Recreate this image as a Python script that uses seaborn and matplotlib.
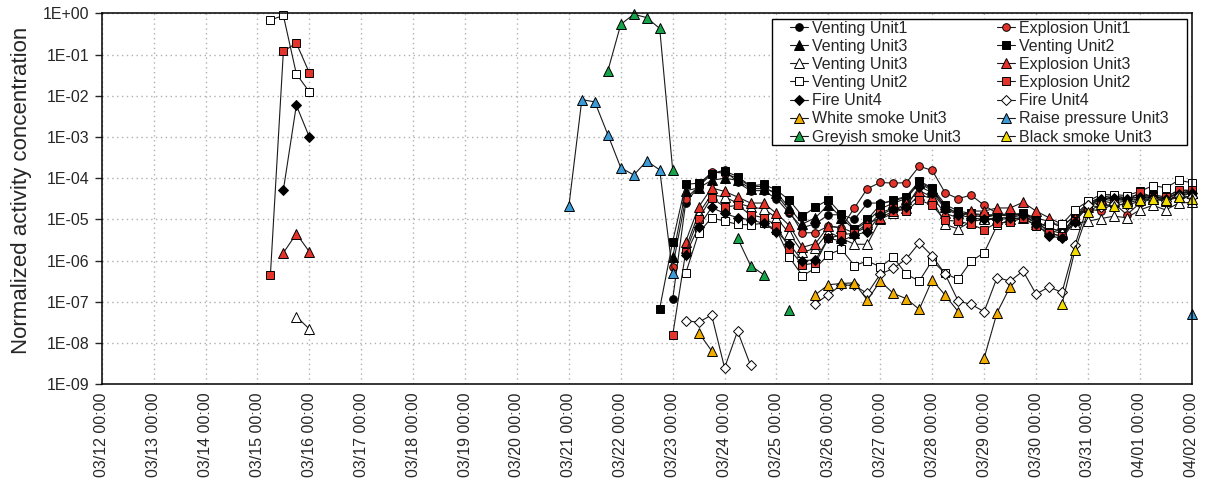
import math
import pandas as pd
import matplotlib
matplotlib.use("Agg")
import matplotlib.pyplot as plt
import matplotlib.dates as mdates
from matplotlib.lines import Line2D
from matplotlib.patches import Rectangle
from matplotlib.ticker import FixedLocator, FuncFormatter, NullLocator
import seaborn as sns

YEAR = "2011"
STEP_HOURS = 6

# Each series: list of (first sample time, values every 6 hours)
venting_unit1 = [
    ("03/23 00:00", [1.15e-7, 2.5e-5, 6.3e-5, 1.26e-4, 1.6e-4, 7.9e-5, 5.0e-5, 5.0e-5, 3.2e-5, 1.4e-5,
                     6.3e-6, 7.9e-6, 1.3e-5, 1.3e-5, 1.0e-5, 2.5e-5, 2.5e-5, 2.8e-5, 3.5e-5, 7.9e-5,
                     5.6e-5, 2.0e-5, 1.4e-5, 1.4e-5, 1.3e-5, 1.3e-5, 1.3e-5, 1.4e-5, 1.0e-5, 4.5e-6,
                     4.0e-6, 1.3e-5, 2.5e-5, 3.2e-5, 3.5e-5, 3.5e-5, 4.0e-5, 3.5e-5, 3.2e-5, 4.5e-5,
                     4.8e-5]),
]
explosion_unit1 = [
    ("03/23 00:00", [7.1e-7, 3.2e-5, 6.3e-5, 1.45e-4, 1.3e-4, 1.0e-4, 6.3e-5, 6.3e-5, 4.0e-5, 1.6e-5,
                     4.7e-6, 4.8e-6, 6.9e-6, 6.3e-6, 1.9e-5, 5.6e-5, 7.9e-5, 7.6e-5, 7.8e-5, 1.95e-4,
                     1.55e-4, 4.4e-5, 3.2e-5, 3.9e-5, 2.2e-5, 1.4e-5, 1.3e-5, 1.4e-5, 1.1e-5, 8.9e-6,
                     6.3e-6, 1.3e-5, 1.8e-5, 1.6e-5, 2.5e-5, 1.3e-5, 2.5e-5, 3.2e-5, 2.8e-5, 4.0e-5,
                     5.2e-5]),
]
venting_unit3 = [
    ("03/23 00:00", [1.2e-6, 5.0e-5, 5.8e-5, 8.9e-5, 1.0e-4, 8.9e-5, 5.6e-5, 5.6e-5, 4.5e-5, 1.9e-5,
                     7.8e-6, 1.1e-5, 2.3e-5, 1.1e-5, 5.6e-6, 8.9e-6, 1.8e-5, 2.5e-5, 3.2e-5, 7.6e-5,
                     5.0e-5, 2.0e-5, 1.4e-5, 1.3e-5, 1.1e-5, 1.3e-5, 1.2e-5, 1.35e-5, 7.9e-6, 5.6e-6,
                     4.5e-6, 1.0e-5, 2.2e-5, 3.2e-5, 3.2e-5, 2.8e-5, 3.2e-5, 3.5e-5, 3.2e-5, 4.5e-5,
                     4.5e-5]),
]
venting_unit2 = [
    ("03/22 18:00", [6.9e-8, 2.9e-6, 7.1e-5, 7.6e-5, 1.3e-4, 1.5e-4, 1.1e-4, 6.5e-5, 7.1e-5, 5.2e-5,
                     2.9e-5, 1.2e-5, 2.0e-5, 3.0e-5, 1.35e-5, 5.9e-6, 1.0e-5, 2.3e-5, 3.0e-5, 3.6e-5,
                     8.5e-5, 5.9e-5, 2.3e-5, 1.6e-5, 1.4e-5, 1.2e-5, 1.3e-5, 1.26e-5, 1.4e-5, 9.1e-6,
                     6.3e-6, 5.0e-6, 1.1e-5, 2.5e-5, 3.5e-5, 3.8e-5, 3.2e-5, 3.5e-5, 4.0e-5, 3.5e-5,
                     5.0e-5, 5.0e-5]),
]
venting_unit3_open = [
    ("03/15 18:00", [4.4e-8, 2.2e-8]),
    ("03/23 06:00", [2.0e-6, 1.4e-5, 4.0e-5, 3.5e-5, 2.5e-5, 2.0e-5, 1.8e-5, 1.1e-5, 4.5e-6, 1.6e-6,
                     2.0e-6, 5.0e-6, 3.5e-6, 2.5e-6, 2.5e-6, 1.0e-5, 1.45e-5, 1.9e-5, 4.0e-5, 3.2e-5,
                     7.6e-6, 5.9e-6, 8.9e-6, 1.0e-5, 1.0e-5, 1.05e-5, 1.1e-5, 8.9e-6, 6.3e-6, 5.0e-6,
                     7.9e-6, 9.1e-6, 1.05e-5, 1.2e-5, 1.1e-5, 1.7e-5, 2.2e-5, 1.7e-5, 2.5e-5, 2.6e-5]),
]
explosion_unit3 = [
    ("03/15 12:00", [1.55e-6, 4.5e-6, 1.65e-6]),
    ("03/23 06:00", [2.9e-6, 2.0e-5, 5.8e-5, 4.8e-5, 3.5e-5, 2.5e-5, 2.5e-5, 1.4e-5, 7.1e-6, 2.1e-6,
                     2.6e-6, 6.8e-6, 6.3e-6, 4.7e-6, 7.9e-6, 1.1e-5, 1.6e-5, 2.5e-5, 5.0e-5, 3.5e-5,
                     1.4e-5, 1.1e-5, 1.6e-5, 1.6e-5, 1.9e-5, 1.9e-5, 2.6e-5, 1.6e-5, 1.1e-5, 7.6e-6,
                     1.1e-5, 2.0e-5, 3.2e-5, 2.8e-5, 3.2e-5, 3.5e-5, 3.2e-5, 2.8e-5, 3.5e-5, 4.5e-5]),
]
venting_unit2_open = [
    ("03/15 06:00", [0.69, 0.89, 0.034, 0.0125]),
    ("03/23 06:00", [4.9e-7, 4.7e-6, 1.1e-5, 9.1e-6, 7.6e-6, 7.4e-6, 8.1e-6, 5.6e-6, 1.2e-6, 4.3e-7,
                     6.6e-7, 1.4e-6, 1.9e-6, 7.6e-7, 9.8e-7, 7.1e-7, 1.2e-6, 4.7e-7, 3.2e-7, 1.0e-6,
                     4.9e-7, 3.5e-7, 9.8e-7, 1.55e-6, 7.2e-6, 1.0e-5, 1.1e-5, 7.1e-6, 7.9e-6, 7.6e-6,
                     1.7e-5, 2.8e-5, 4.0e-5, 4.0e-5, 3.8e-5, 4.8e-5, 6.6e-5, 5.9e-5, 8.9e-5, 7.8e-5]),
]
explosion_unit2 = [
    ("03/15 06:00", [4.5e-7, 0.12, 0.19, 0.036]),
    ("03/23 00:00", [1.55e-8, 1.6e-6, 1.05e-5, 3.4e-5, 2.0e-5, 2.2e-5, 1.3e-5, 1.1e-5, 7.1e-6, 1.9e-6,
                     7.9e-7, 8.7e-7, 3.5e-6, 4.2e-6, 4.7e-6, 6.6e-6, 1.45e-5, 1.9e-5, 1.6e-5, 3.0e-5,
                     2.2e-5, 9.5e-6, 9.1e-6, 7.6e-6, 5.6e-6, 8.3e-6, 8.5e-6, 1.1e-5, 7.1e-6, 4.7e-6,
                     3.9e-6, 9.1e-6, 2.0e-5, 2.8e-5, 2.5e-5, 2.8e-5, 4.6e-5, 3.5e-5, 3.5e-5, 5.2e-5,
                     5.1e-5]),
]
fire_unit4 = [
    ("03/15 12:00", [5.2e-5, 5.9e-3, 1.0e-3]),
    ("03/23 06:00", [1.4e-6, 6.6e-6, 1.95e-5, 1.4e-5, 1.1e-5, 9.8e-6, 8.1e-6, 5.0e-6, 2.5e-6, 1.0e-6,
                     1.05e-6, 3.5e-6, 3.0e-6, 4.2e-6, 5.0e-6, 1.3e-5, 1.8e-5, 2.0e-5, 6.3e-5, 4.5e-5,
                     1.8e-5, 1.3e-5, 1.1e-5, 1.0e-5, 1.1e-5, 1.1e-5, 1.3e-5, 7.9e-6, 4.0e-6, 3.5e-6,
                     8.9e-6, 2.2e-5, 3.2e-5, 3.3e-5, 3.2e-5, 3.5e-5, 3.5e-5, 3.2e-5, 4.2e-5, 4.5e-5]),
]
fire_unit4_open = [
    ("03/23 06:00", [3.5e-8, 3.2e-8, 4.8e-8, 2.5e-9, 1.95e-8, 2.9e-9]),
    ("03/25 18:00", [9.1e-8, 1.5e-7, 2.6e-7, 2.5e-7, 1.6e-7, 4.7e-7, 6.5e-7, 1.1e-6, 2.7e-6, 1.3e-6,
                     4.7e-7, 1.05e-7, 8.7e-8, 5.8e-8, 3.9e-7, 3.2e-7, 5.6e-7, 1.55e-7, 2.3e-7, 1.7e-7,
                     2.4e-6, 2.2e-5, 2.0e-5, 2.4e-5, 2.2e-5, 2.8e-5, 3.2e-5, 2.8e-5, 3.8e-5, 3.5e-5]),
]
white_smoke_unit3 = [
    ("03/23 12:00", [1.8e-8, 6.5e-9]),
    ("03/25 18:00", [1.5e-7, 2.6e-7, 2.8e-7, 2.9e-7, 1.1e-7, 3.2e-7, 1.6e-7, 1.2e-7, 6.6e-8, 3.4e-7,
                     1.45e-7, 5.8e-8]),
    ("03/29 00:00", [4.3e-9, 5.5e-8, 2.3e-7]),
]
raise_pressure_unit3 = [
    ("03/21 00:00", [2.1e-5, 8.1e-3, 7.1e-3, 1.15e-3, 1.8e-4, 1.2e-4, 2.6e-4, 1.6e-4, 5.0e-7]),
    ("04/02 00:00", [5.2e-8]),
]
greyish_smoke_unit3 = [
    ("03/21 18:00", [0.04, 0.54, 0.95, 0.79, 0.43, 1.6e-4]),
    ("03/24 06:00", [3.5e-6, 7.6e-7, 4.6e-7]),
    ("03/25 06:00", [6.3e-8]),
]
black_smoke_unit3 = [
    ("03/30 12:00", [8.7e-8, 1.8e-6, 1.5e-5, 2.4e-5, 2.1e-5, 2.5e-5, 3.0e-5, 3.2e-5, 3.0e-5, 3.6e-5,
                     3.2e-5]),
]

RED = "#E4332A"
BLUE = "#3C9BD6"
GREEN = "#16A34A"
GOLD = "#F2AE00"
YELLOW = "#F3DC00"

# (label, data, marker, face colour, marker size)
series = [
    ("Venting Unit1", venting_unit1, "o", "black", 5.5),
    ("Explosion Unit1", explosion_unit1, "o", RED, 5.5),
    ("Venting Unit3", venting_unit3, "^", "black", 6.5),
    ("Venting Unit2", venting_unit2, "s", "black", 6.0),
    ("Venting Unit3", venting_unit3_open, "^", "white", 6.5),
    ("Explosion Unit3", explosion_unit3, "^", RED, 6.5),
    ("Venting Unit2", venting_unit2_open, "s", "white", 6.0),
    ("Explosion Unit2", explosion_unit2, "s", RED, 6.0),
    ("Fire Unit4", fire_unit4, "D", "black", 4.8),
    ("Fire Unit4", fire_unit4_open, "D", "white", 4.8),
    ("White smoke Unit3", white_smoke_unit3, "^", GOLD, 6.5),
    ("Raise pressure Unit3", raise_pressure_unit3, "^", BLUE, 6.5),
    ("Greyish smoke Unit3", greyish_smoke_unit3, "^", GREEN, 6.5),
    ("Black smoke Unit3", black_smoke_unit3, "^", YELLOW, 6.5),
]


def to_frame(segments):
    rows = []
    for k, (start, values) in enumerate(segments):
        t0 = pd.to_datetime(f"{YEAR}/{start}", format="%Y/%m/%d %H:%M")
        for j, v in enumerate(values):
            rows.append((t0 + pd.Timedelta(hours=STEP_HOURS * j), v, k))
    return pd.DataFrame(rows, columns=["time", "value", "seg"])


sns.set_style("ticks")
plt.rcParams["font.family"] = ["Liberation Sans", "DejaVu Sans"]

fig = plt.figure(figsize=(12.05, 4.9), dpi=100)
ax = fig.add_axes([0.0844, 0.2157, 0.9046, 0.757])
ax.set_yscale("log")

handles = []
for label, segs, marker, face, ms in series:
    df = to_frame(segs)
    style = dict(marker=marker, markersize=ms, markerfacecolor=face,
                 markeredgecolor="black", markeredgewidth=0.7)
    sns.lineplot(data=df, x="time", y="value", units="seg", estimator=None,
                 color="#1a1a1a", linewidth=0.8, legend=False, clip_on=False,
                 ax=ax, **style)
    handles.append(Line2D([0], [0], color="#1a1a1a", linewidth=0.8, label=label, **style))

ax.set_xlim(pd.Timestamp(f"{YEAR}-03-12"), pd.Timestamp(f"{YEAR}-04-02"))
ax.set_ylim(1e-9, 1)

ax.xaxis.set_major_locator(mdates.DayLocator())
ax.xaxis.set_major_formatter(mdates.DateFormatter("%m/%d %H:%M"))
ax.tick_params(axis="x", rotation=90, labelsize=11.5, length=0, pad=6)

decades = [10.0 ** -k for k in range(0, 10)]
ax.yaxis.set_major_locator(FixedLocator(decades))
ax.yaxis.set_minor_locator(NullLocator())
ax.yaxis.set_major_formatter(FuncFormatter(lambda v, _: f"1E{round(math.log10(v)):+03d}"))
ax.tick_params(axis="y", labelsize=11.5, length=5, width=1, direction="out", pad=4)

ax.grid(True, which="major", color="#b0b0b0", linestyle=(0, (1, 2.5)), linewidth=1)
for side in ["left", "right", "top", "bottom"]:
    ax.spines[side].set_visible(True)
    ax.spines[side].set_color("black")
    ax.spines[side].set_linewidth(1.1)

ax.set_xlabel("")
ax.set_ylabel("Normalized activity concentration", fontsize=16)
ax.yaxis.set_label_coords(-0.064, 0.524)

# legend frame drawn as a box, entries laid out in two columns (filled column by column)
ax.add_patch(Rectangle((0.615, 0.645), 0.3807, 0.3388, transform=ax.transAxes,
                       facecolor="white", edgecolor="black", linewidth=1.0,
                       zorder=4.5, clip_on=False))
order = [0, 2, 4, 6, 8, 10, 12, 1, 3, 5, 7, 9, 11, 13]
leg = ax.legend(handles=[handles[i] for i in order], ncol=2, loc="upper left",
                bbox_to_anchor=(790 / 1205, 1 - 20.5 / 490), bbox_transform=fig.transFigure,
                borderaxespad=0, borderpad=0, fontsize=11.5, frameon=False,
                handlelength=1.1, handletextpad=0.25, columnspacing=2.3,
                labelspacing=0.2)
leg.set_zorder(5)

fig.savefig("out.png", dpi=100)
